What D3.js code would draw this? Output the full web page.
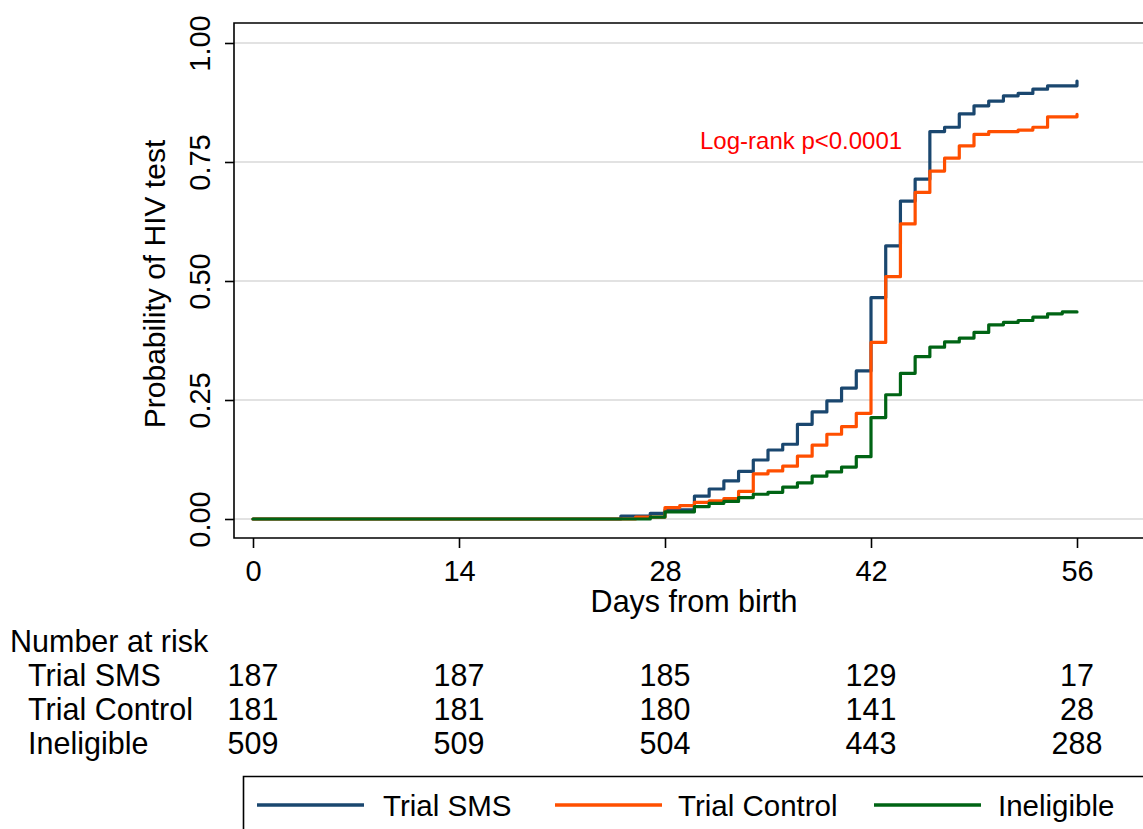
<!DOCTYPE html>
<html>
<head>
<meta charset="utf-8">
<script src="https://cdn.jsdelivr.net/npm/d3@7"></script>
<style>
  html, body { margin: 0; padding: 0; background: #fff; }
  svg { display: block; }
  text { font-family: "Liberation Sans", Arial, Helvetica, sans-serif; fill: #000; }
</style>
</head>
<body>
<svg id="chart" width="1143" height="829"></svg>
<script>
// ---------- data ----------
const seriesNames = ["Trial SMS", "Trial Control", "Ineligible"];
const seriesColors = ["#1a476f", "#ff4f00", "#006414"];

const smsDays = [0, 25, 27, 28, 30, 31, 32, 33, 34, 35, 36, 37, 38, 39, 40, 41, 42, 43, 44, 45, 46, 47, 48, 49, 50, 51, 52, 53, 54, 56];
const smsProb = [0, 0.006, 0.012, 0.019, 0.048, 0.063, 0.080, 0.100, 0.124, 0.145, 0.157, 0.199, 0.225, 0.248, 0.275, 0.311, 0.465, 0.574, 0.668, 0.714, 0.814, 0.823, 0.851, 0.868, 0.878, 0.889, 0.894, 0.903, 0.910, 0.920];

const ctrlDays = [0, 26, 28, 29, 30, 31, 32, 33, 34, 35, 36, 37, 38, 39, 40, 41, 42, 43, 44, 45, 46, 47, 48, 49, 50, 52, 53, 54, 56];
const ctrlProb = [0, 0.004, 0.024, 0.028, 0.035, 0.038, 0.043, 0.058, 0.095, 0.101, 0.111, 0.132, 0.155, 0.178, 0.194, 0.222, 0.371, 0.509, 0.620, 0.686, 0.731, 0.758, 0.784, 0.808, 0.814, 0.817, 0.823, 0.845, 0.850];

const ineligDays = [0, 27, 28, 30, 31, 32, 33, 34, 35, 36, 37, 38, 39, 40, 41, 42, 43, 44, 45, 46, 47, 48, 49, 50, 51, 52, 53, 54, 55, 56];
const ineligProb = [0, 0.004, 0.015, 0.026, 0.033, 0.037, 0.045, 0.052, 0.056, 0.067, 0.076, 0.090, 0.099, 0.109, 0.131, 0.213, 0.261, 0.306, 0.341, 0.361, 0.372, 0.380, 0.392, 0.408, 0.413, 0.417, 0.424, 0.431, 0.435, 0.435];

const xTicks = [0, 14, 28, 42, 56];
const yTicks = [0, 0.25, 0.5, 0.75, 1.0];
const yTickLabels = ["0.00", "0.25", "0.50", "0.75", "1.00"];

const riskTitle = "Number at risk";
const riskSMS = [187, 187, 185, 129, 17];
const riskCtrl = [181, 181, 180, 141, 28];
const riskInelig = [509, 509, 504, 443, 288];

const annotation = "Log-rank p<0.0001";
const xTitle = "Days from birth";
const yTitle = "Probability of HIV test";

// ---------- layout ----------
const svg = d3.select("#chart");
const W = 1143, H = 829;
const frame = { left: 234, top: 23, bottom: 538 };

const x = d3.scaleLinear().domain([0, 56]).range([253, 1077]);
const y = d3.scaleLinear().domain([0, 1]).range([519, 43]);

// gridlines
svg.append("g").selectAll("line").data(yTicks).join("line")
  .attr("x1", frame.left).attr("x2", W)
  .attr("y1", d => y(d)).attr("y2", d => y(d))
  .attr("stroke", "#e2e2e2").attr("stroke-width", 2);

// frame (top, left, bottom)
svg.append("path")
  .attr("d", `M${W + 2},${frame.top}H${frame.left}V${frame.bottom}H${W + 2}`)
  .attr("fill", "none").attr("stroke", "#000").attr("stroke-width", 1.6);

// y axis
const yAxis = svg.append("g").attr("transform", `translate(${frame.left},0)`)
  .call(d3.axisLeft(y).tickValues(yTicks).tickSize(9).tickFormat((d, i) => yTickLabels[i]));
yAxis.select(".domain").remove();
yAxis.selectAll(".tick line").attr("stroke", "#000").attr("stroke-width", 1.6);
yAxis.selectAll(".tick text")
  .attr("font-family", "Liberation Sans, Arial, sans-serif")
  .attr("font-size", 29).attr("fill", "#000")
  .attr("transform", "rotate(-90)")
  .attr("x", 0).attr("y", -24)
  .attr("dy", 0)
  .attr("text-anchor", "middle");

// x axis
const xAxis = svg.append("g").attr("transform", `translate(0,${frame.bottom})`)
  .call(d3.axisBottom(x).tickValues(xTicks).tickSize(10).tickFormat(d3.format("d")));
xAxis.select(".domain").remove();
xAxis.selectAll(".tick line").attr("stroke", "#000").attr("stroke-width", 1.6);
xAxis.selectAll(".tick text")
  .attr("font-family", "Liberation Sans, Arial, sans-serif")
  .attr("font-size", 29).attr("fill", "#000")
  .attr("y", 43).attr("dy", 0);

// axis titles
svg.append("text").attr("x", 694).attr("y", 612)
  .attr("text-anchor", "middle").attr("font-size", 30.5).text(xTitle);
svg.append("text").attr("transform", `translate(165,${y(0.5) + 3}) rotate(-90)`)
  .attr("text-anchor", "middle").attr("font-size", 30).text(yTitle);

// curves
const seriesData = [
  smsDays.map((d, i) => [d, smsProb[i]]),
  ctrlDays.map((d, i) => [d, ctrlProb[i]]),
  ineligDays.map((d, i) => [d, ineligProb[i]])
];
const line = d3.line().x(d => x(d[0])).y(d => y(d[1])).curve(d3.curveStepAfter);
svg.append("g").selectAll("path").data(seriesData).join("path")
  .attr("d", line)
  .attr("fill", "none")
  .attr("stroke", (d, i) => seriesColors[i])
  .attr("stroke-width", 3.2)
  .attr("stroke-linejoin", "round")
  .attr("stroke-linecap", "round");

// annotation
svg.append("text").attr("x", 700).attr("y", 149)
  .attr("font-size", 24).attr("fill", "#ff0000").style("fill", "#ff0000").text(annotation);

// number at risk table
svg.append("text").attr("x", 10).attr("y", 652).attr("font-size", 30.5).text(riskTitle);
const riskRows = [riskSMS, riskCtrl, riskInelig];
const rowY = [686, 720, 754];
riskRows.forEach((row, r) => {
  svg.append("text").attr("x", 28).attr("y", rowY[r]).attr("font-size", 30.5).text(seriesNames[r]);
  svg.append("g").selectAll("text").data(row).join("text")
    .attr("x", (d, i) => x(xTicks[i]))
    .attr("y", rowY[r])
    .attr("text-anchor", "middle")
    .attr("font-size", 30.5)
    .text(d => d);
});

// legend
svg.append("path")
  .attr("d", `M${W + 2},776.5H243.5V${H + 2}`)
  .attr("fill", "none").attr("stroke", "#000").attr("stroke-width", 1.6);
const legendLineX = [257, 555, 874];
const legendTextX = [383, 678, 998];
seriesNames.forEach((name, i) => {
  svg.append("line")
    .attr("x1", legendLineX[i]).attr("x2", legendLineX[i] + 107)
    .attr("y1", 805).attr("y2", 805)
    .attr("stroke", seriesColors[i]).attr("stroke-width", 3.5);
  svg.append("text").attr("x", legendTextX[i]).attr("y", 816)
    .attr("font-size", 29.5).text(name);
});
</script>
</body>
</html>
